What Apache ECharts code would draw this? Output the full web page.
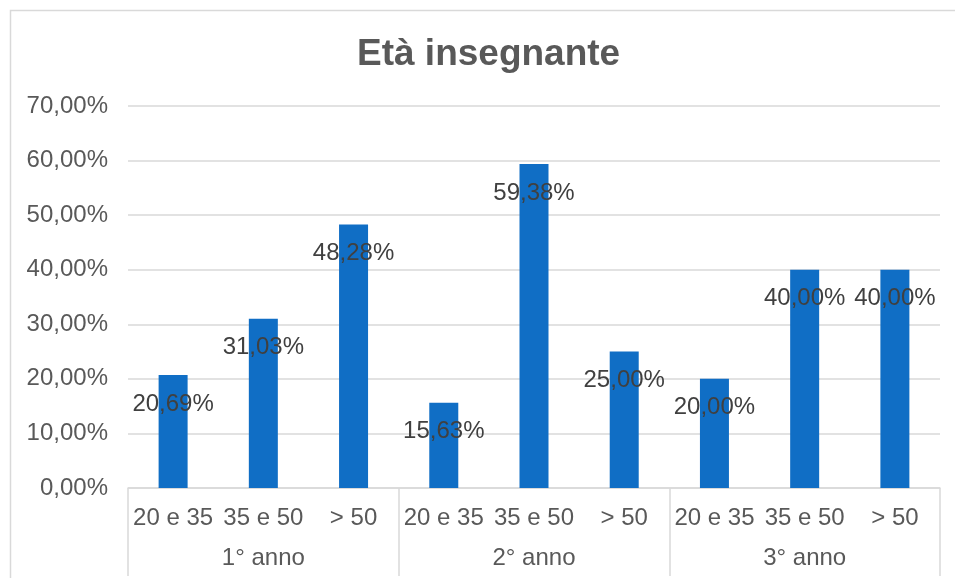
<!DOCTYPE html>
<html>
<head>
<meta charset="utf-8">
<script src="https://cdn.jsdelivr.net/npm/echarts@6/dist/echarts.min.js"></script>
<style>
  html, body { margin: 0; padding: 0; background: #fff; }
  #chart { width: 955px; height: 578px; }
</style>
</head>
<body>
<div id="chart"></div>
<script>
// Age bands of the teacher, repeated for each school year
const ageBands = ['20 e 35', '35 e 50', '> 50', '20 e 35', '35 e 50', '> 50', '20 e 35', '35 e 50', '> 50'];
const years = ['1° anno', '2° anno', '3° anno'];
// Percentages per age band, in the same order as ageBands
const shares = [20.69, 31.03, 48.28, 15.63, 59.38, 25.00, 20.00, 40.00, 40.00];

const FONT = '"Liberation Sans", Arial, sans-serif';
const pct = v => v.toFixed(2).replace('.', ',') + '%';

const chart = echarts.init(document.getElementById('chart'));
chart.setOption({
  animation: false,
  backgroundColor: '#fff',
  title: {
    text: 'Età insegnante',
    left: 352,
    top: 31,
    textStyle: { fontFamily: FONT, fontSize: 37, fontWeight: 'bold', color: '#595959' }
  },
  graphic: [{
    type: 'rect',
    shape: { x: 10.5, y: 10.5, width: 1000, height: 700 },
    style: { fill: 'none', stroke: '#D9D9D9', lineWidth: 1.5 },
    silent: true
  }],
  grid: { left: 128, right: 15, top: 106, bottom: 90 },
  xAxis: [{
    type: 'category',
    data: ageBands,
    position: 'bottom',
    axisLine: { show: true, lineStyle: { color: '#D9D9D9', width: 1.5 } },
    axisTick: { show: false },
    axisLabel: { interval: 0, margin: 18, fontFamily: FONT, fontSize: 24, color: '#595959' }
  }, {
    type: 'category',
    data: years,
    position: 'bottom',
    boundaryGap: true,
    axisLine: { show: false },
    axisTick: { show: true, length: 88, lineStyle: { color: '#D9D9D9', width: 1.5 } },
    axisLabel: { interval: 0, margin: 58, fontFamily: FONT, fontSize: 24, color: '#595959' }
  }],
  yAxis: {
    type: 'value',
    min: 0,
    max: 70,
    interval: 10,
    axisLine: { show: false },
    axisTick: { show: false },
    splitLine: { lineStyle: { color: '#D9D9D9', width: 1.5 } },
    axisLabel: { margin: 20, formatter: pct, fontFamily: FONT, fontSize: 24, color: '#595959' }
  },
  series: [{
    type: 'bar',
    xAxisIndex: 0,
    data: shares,
    barWidth: 29,
    itemStyle: { color: '#106EC5' },
    label: {
      show: true,
      position: 'insideTop',
      distance: 17,
      formatter: p => pct(p.value),
      fontFamily: FONT,
      fontSize: 24,
      color: '#404040'
    }
  }]
});
</script>
</body>
</html>
